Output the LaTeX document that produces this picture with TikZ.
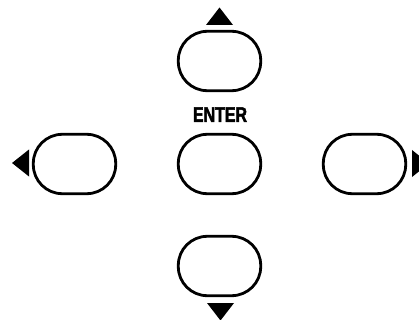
\documentclass[tikz,border=0pt]{standalone}
\usepackage{fontspec}
\setmainfont{Liberation Sans}
\newfontfamily\keyfont[FakeBold=2.2,FakeStretch=0.76]{Liberation Sans Bold}
\tikzset{
  x=1pt,y=-1pt,
  keybtn/.style={draw=black,fill=white,line width=2.8pt,rounded corners=29pt,minimum width=82.4pt,minimum height=59.4pt,inner sep=0pt},
  tri/.style={fill=black,draw=none},
  keylabel/.style={inner sep=0pt,font=\keyfont\fontsize{21pt}{22pt}\selectfont}
}
\begin{document}
\begin{tikzpicture}
\useasboundingbox (0,0) rectangle (419,320);
\clip (0,0) rectangle (419,320);
\node[keybtn] (up) at (219.5,61) {};
\node[keybtn] (enter) at (219.5,164) {};
\node[keybtn] (down) at (219.5,266) {};
\node[keybtn] (left) at (74.5,164) {};
\node[keybtn] (right) at (364.5,164) {};
\node[keylabel] (lbl) at (220,114.6) {ENTER};
\fill[tri] (219.5,7.5) -- (233,25) -- (206,25) -- cycle;
\fill[tri] (220.5,320.5) -- (234,303) -- (207,303) -- cycle;
\fill[tri] (12,163) -- (29,149.5) -- (29,176.5) -- cycle;
\fill[tri] (412,150) -- (429,163.5) -- (412,177) -- cycle;
\end{tikzpicture}
\end{document}
